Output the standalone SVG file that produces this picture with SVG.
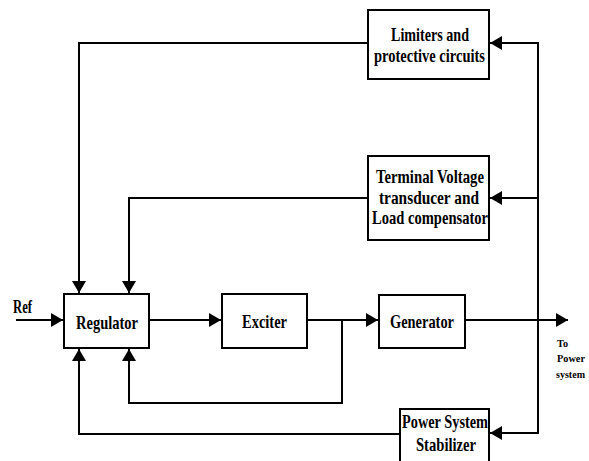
<svg xmlns="http://www.w3.org/2000/svg" width="589" height="461" viewBox="0 0 589 461">
<style>
.box{fill:#fff;stroke:#000;stroke-width:2}
.t{font-family:"Liberation Serif",serif;font-weight:bold;font-size:19px;fill:#000}
.s{font-family:"Liberation Serif",serif;font-weight:bold;font-size:11px;fill:#000}
.c{fill:none;stroke:#000;stroke-width:2}
</style>
<defs>
<marker id="b" markerWidth="12" markerHeight="14" refX="12" refY="7" orient="auto" markerUnits="userSpaceOnUse" viewBox="0 0 12 14">
<path d="M0,0 L12,7 L0,14 z" fill="#000"/>
</marker>
</defs>
<g id="connectors">
<path class="c" d="M16,320 H63" marker-end="url(#b)"/>
<path class="c" d="M149,320 H221" marker-end="url(#b)"/>
<path class="c" d="M307,320 H378" marker-end="url(#b)"/>
<path class="c" d="M342,320 V403 H129 V349" marker-end="url(#b)"/>
<path class="c" d="M465,320 H568" marker-end="url(#b)"/>
<path class="c" d="M538,320 V43 H490" marker-end="url(#b)"/>
<path class="c" d="M538,198 H490" marker-end="url(#b)"/>
<path class="c" d="M538,320 V433 H490" marker-end="url(#b)"/>
<path class="c" d="M368,43 H79 V293" marker-end="url(#b)"/>
<path class="c" d="M368,198 H129 V293" marker-end="url(#b)"/>
<path class="c" d="M400,434 H79 V349" marker-end="url(#b)"/>
</g>
<g id="limiters">
<rect class="box" x="368" y="10" width="121" height="69"/>
<text class="t" x="391" y="41" textLength="78" lengthAdjust="spacingAndGlyphs">Limiters and</text>
<text class="t" x="374" y="62" textLength="111" lengthAdjust="spacingAndGlyphs">protective circuits</text>
</g>
<g id="terminal">
<rect class="box" x="368" y="156" width="121" height="84"/>
<text class="t" x="376" y="183" textLength="108" lengthAdjust="spacingAndGlyphs">Terminal Voltage</text>
<text class="t" x="379" y="204" textLength="100" lengthAdjust="spacingAndGlyphs">transducer and</text>
<text class="t" x="372" y="224" textLength="116" lengthAdjust="spacingAndGlyphs">Load compensator</text>
</g>
<g id="regulator">
<rect class="box" x="64" y="294" width="85" height="54"/>
<text class="t" x="76" y="329" textLength="62" lengthAdjust="spacingAndGlyphs">Regulator</text>
</g>
<g id="exciter">
<rect class="box" x="222" y="294" width="85" height="54"/>
<text class="t" x="242" y="328" textLength="45" lengthAdjust="spacingAndGlyphs">Exciter</text>
</g>
<g id="generator">
<rect class="box" x="379" y="295" width="86" height="53"/>
<text class="t" x="390" y="328" textLength="64" lengthAdjust="spacingAndGlyphs">Generator</text>
</g>
<g id="pss">
<rect class="box" x="400" y="409" width="89" height="53"/>
<text class="t" x="402" y="428" textLength="86" lengthAdjust="spacingAndGlyphs">Power System</text>
<text class="t" x="416" y="451" textLength="60" lengthAdjust="spacingAndGlyphs">Stabilizer</text>
</g>
<g id="labels">
<text class="t" x="13" y="313" textLength="19" lengthAdjust="spacingAndGlyphs">Ref</text>
<text class="s" x="557" y="347" textLength="11" lengthAdjust="spacingAndGlyphs">To</text>
<text class="s" x="557" y="362" textLength="28" lengthAdjust="spacingAndGlyphs">Power</text>
<text class="s" x="556" y="378" textLength="29" lengthAdjust="spacingAndGlyphs">system</text>
</g>
</svg>
